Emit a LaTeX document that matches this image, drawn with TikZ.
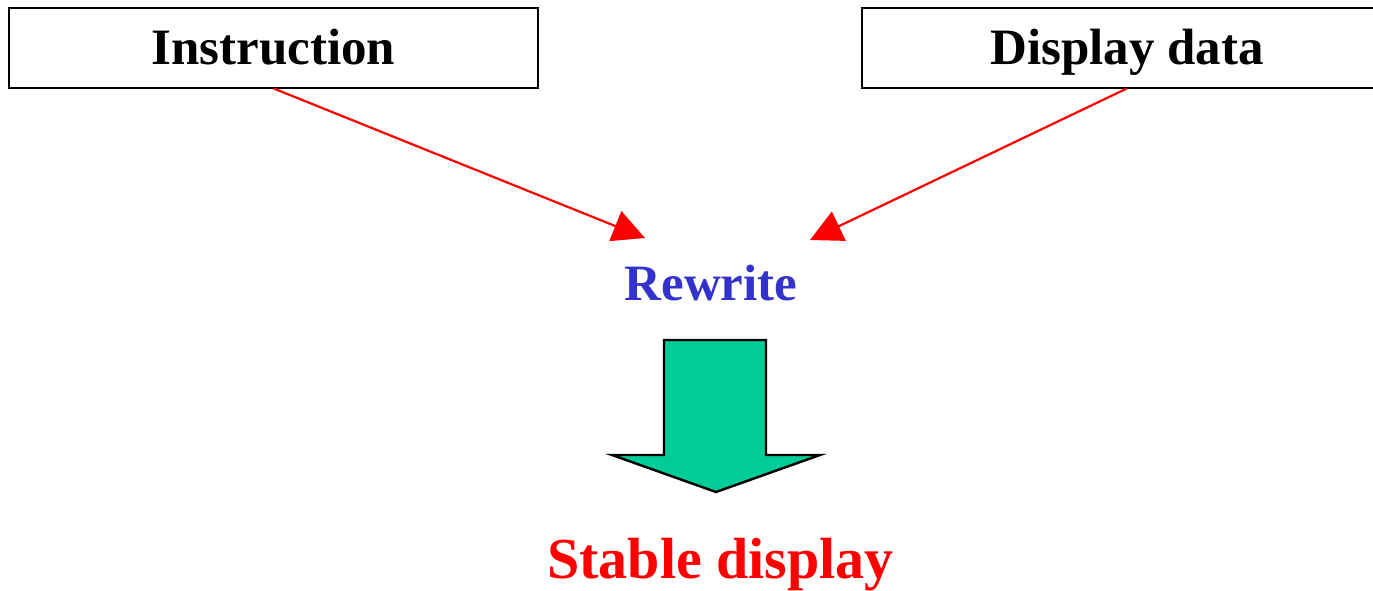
\documentclass[tikz,border=0pt]{standalone}
\usepackage{fontspec}
\setmainfont{Liberation Serif}
\usetikzlibrary{arrows.meta}
\definecolor{rewriteblue}{HTML}{3333CC}
\definecolor{arrowgreen}{HTML}{00CC99}
\tikzset{
  boxtext/.style={minimum height=40pt, inner sep=0pt, text height=20pt, text depth=4pt,
    font=\fontsize{25.5}{30}\selectfont\bfseries},
  frame/.style={draw=black, line width=1.2pt, fill=white},
  feed/.style={draw=red, line width=1.1pt, -{Triangle[length=16pt,width=16pt]}},
  caption/.style={anchor=base, inner sep=0pt, font=\fontsize{25.5}{30}\selectfont\bfseries},
  bigarrow/.style={fill=arrowgreen, draw=black, line width=1.2pt, line join=miter}
}
\begin{document}
\begin{tikzpicture}[x=0.5pt, y=-0.5pt]
\path[use as bounding box, clip] (0,0) rectangle (1373,590);

% input boxes (the right one runs past the page edge)
\draw[frame] (9,8) rectangle (538,88);
\draw[frame] (862,8) rectangle (1420,88);
\node[boxtext] (instr) at (273.5,48) {Instruction};
\node[boxtext] (disp) at (1127,48) {Display data};

% arrow tips pointing at the rewrite step
\coordinate (tipL) at (645,238);
\coordinate (tipR) at (810,240);
\draw[feed] (instr.south) -- (tipL);
\draw[feed] (disp.south) -- (tipR);

\node[caption, text=rewriteblue] (rewrite) at (711,300) {Rewrite};

% block arrow down to the result
\draw[bigarrow] (664,340) -- (766,340) -- (766,455) -- (820,455) -- (716,492)
  -- (612,455) -- (664,455) -- cycle;

\node[caption, text=red, font=\fontsize{29}{34}\selectfont\bfseries] (stable) at (720.5,578) {Stable display};
\end{tikzpicture}
\end{document}
